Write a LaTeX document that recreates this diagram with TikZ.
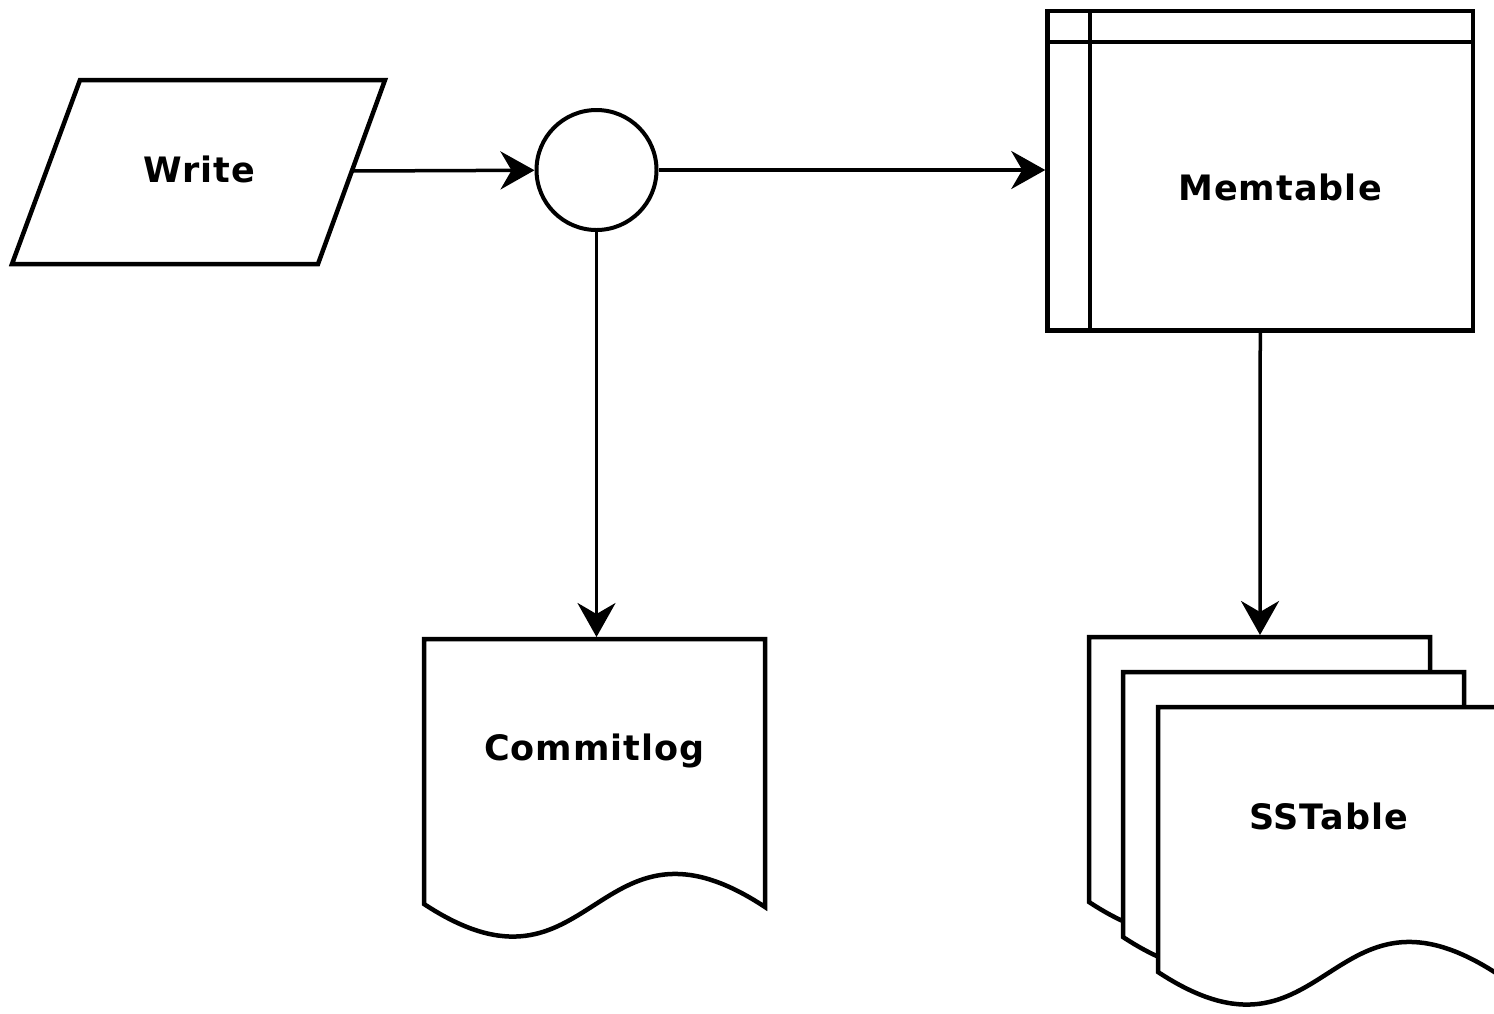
\documentclass[tikz,border=0pt]{standalone}
\usepackage{fontspec}
\setmainfont{DejaVu Sans}
\usetikzlibrary{arrows.meta}
\tikzset{
  shapeline/.style={draw=black, line width=4.5pt, fill=white, line join=miter},
  innerline/.style={draw=black, line width=4pt},
  conn/.style={draw=black, line width=3.5pt, -{Stealth[length=34pt,width=38pt,inset=11pt]}},
  lbl/.style={font=\bfseries\fontsize{35}{42}\selectfont\addfontfeatures{LetterSpace=3}, inner sep=0pt, anchor=base},
  docpic/.pic={
    \path[shapeline] (0,0) -- (341,0) -- (341,268)
      .. controls (170,155) and (170,377) .. (0,265) -- cycle;
  }
}
\begin{document}
\begin{tikzpicture}[x=1pt,y=-1pt]
\clip (0,0) rectangle (1494,1013);
\fill[white] (0,0) rectangle (1494,1013);

% Write parallelogram
\coordinate (wtl) at (80,80);
\coordinate (wtr) at (385,80);
\coordinate (wbr) at (318,264);
\coordinate (wbl) at (12,264);
\path[shapeline] (wtl) -- (wtr) -- (wbr) -- (wbl) -- cycle;
\node[lbl] (writelbl) at (199.5,182) {Write};
\coordinate (wout) at (352,171);

% hub circle
\node[circle, draw=black, line width=4pt, fill=white, minimum size=120pt, inner sep=0pt] (hub) at (596.5,170) {};

% Memtable
\node[draw=black, line width=4.5pt, fill=white, minimum width=425.5pt, minimum height=319.5pt, inner sep=0pt] (mem) at (1260.25,170.75) {};
\draw[innerline] (1089.5,11) -- (1089.5,330.5);
\draw[innerline] (1047.5,42) -- (1473,42);
\node[lbl] (memlbl) at (1280,200) {Memtable};

% Commitlog document
\pic at (424,639) {docpic};
\coordinate (ctop) at (596.5,637);
\node[lbl] (clog) at (594.5,760) {Commitlog};

% SSTable stack
\pic at (1089,637) {docpic};
\pic at (1123,672) {docpic};
\pic at (1158,707) {docpic};
\coordinate (stop) at (1260,635);
\node[lbl] (sst) at (1328.5,829) {SSTable};

% connectors
\draw[conn] (wout) -- (hub);
\draw[conn] (hub.east) -- (hub.east -| mem.west);
\draw[conn] (hub.south) -- (ctop);
\draw[conn] (mem.south) -- (stop);
\end{tikzpicture}
\end{document}
